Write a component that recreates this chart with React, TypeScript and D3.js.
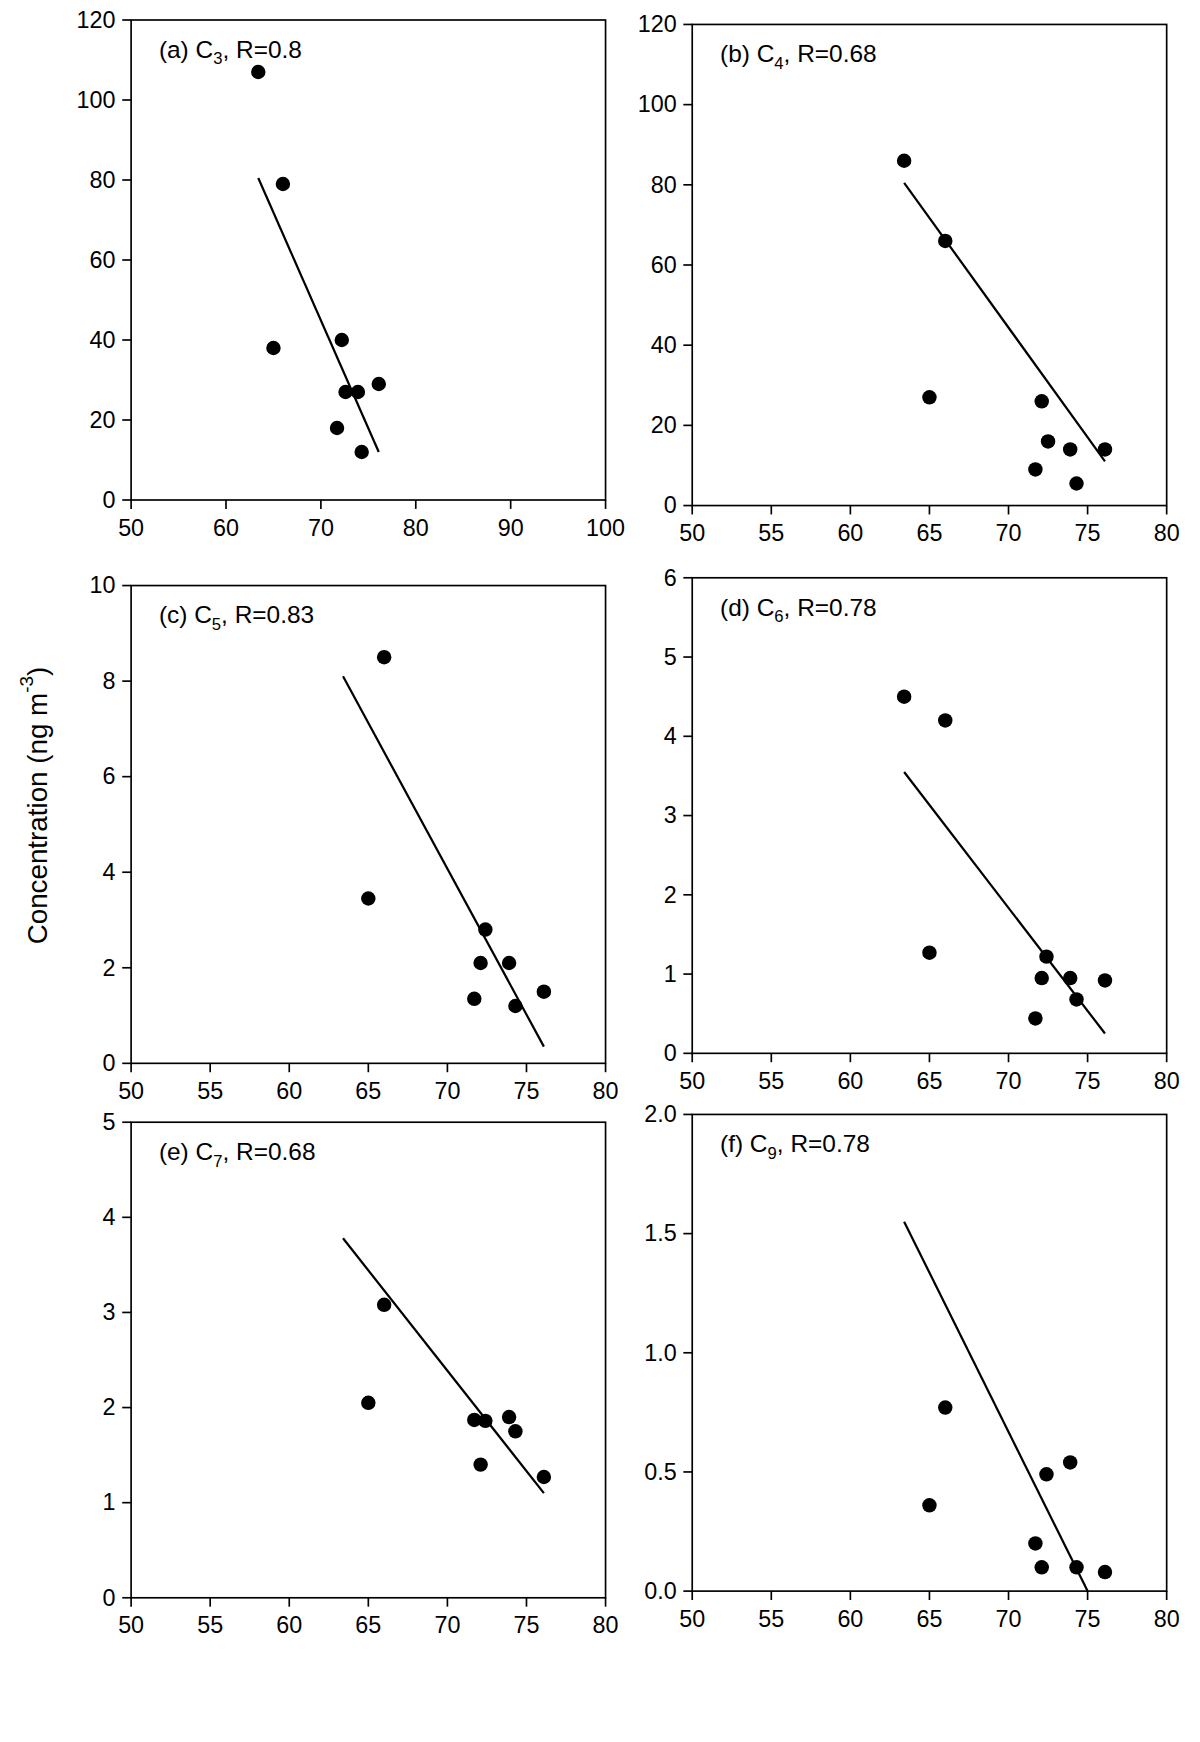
import * as d3 from 'd3'

const xsA = [63.4, 66, 65, 72.2, 72.6, 71.7, 73.9, 76.1, 74.3]
const ysA = [107, 79, 38, 40, 27, 18, 27, 29, 12]
const xsB = [63.4, 66, 65, 72.1, 72.5, 71.7, 73.9, 74.3, 76.1]
const ysB = [86, 66, 27, 26, 16, 9, 14, 5.5, 14]
const xsC = [66, 65, 72.4, 72.1, 73.9, 71.7, 74.3, 76.1]
const ysC = [8.5, 3.45, 2.8, 2.1, 2.1, 1.35, 1.2, 1.5]
const xsD = [63.4, 66, 65, 72.4, 72.1, 73.9, 76.1, 74.3, 71.7]
const ysD = [4.5, 4.2, 1.27, 1.22, 0.95, 0.95, 0.92, 0.68, 0.44]
const xsE = [66, 65, 71.7, 72.4, 73.9, 74.3, 72.1, 76.1]
const ysE = [3.08, 2.05, 1.87, 1.86, 1.9, 1.75, 1.4, 1.27]
const xsF = [66, 65, 72.4, 73.9, 71.7, 72.1, 74.3, 76.1]
const ysF = [0.77, 0.36, 0.49, 0.54, 0.2, 0.1, 0.1, 0.08]

const panels = [
  { tag: '(a) C', sub: '3', r: 'R=0.8', xs: xsA, ys: ysA, xd: [50, 100], xt: [50, 60, 70, 80, 90, 100], yd: [0, 120], yt: d3.range(0, 121, 20), fit: [[63.4, 80.5], [76.1, 12]], box: [118, 18, 545, 450], fmt: 'd' },
  { tag: '(b) C', sub: '4', r: 'R=0.68', xs: xsB, ys: ysB, xd: [50, 80], xt: d3.range(50, 81, 5), yd: [0, 120], yt: d3.range(0, 121, 20), fit: [[63.4, 80.5], [76.1, 11]], box: [623, 22, 1050, 455], fmt: 'd' },
  { tag: '(c) C', sub: '5', r: 'R=0.83', xs: xsC, ys: ysC, xd: [50, 80], xt: d3.range(50, 81, 5), yd: [0, 10], yt: d3.range(0, 11, 2), fit: [[63.4, 8.1], [76.1, 0.35]], box: [118, 527, 545, 957], fmt: 'd' },
  { tag: '(d) C', sub: '6', r: 'R=0.78', xs: xsD, ys: ysD, xd: [50, 80], xt: d3.range(50, 81, 5), yd: [0, 6], yt: d3.range(0, 7, 1), fit: [[63.4, 3.55], [76.1, 0.25]], box: [623, 520, 1050, 948], fmt: 'd' },
  { tag: '(e) C', sub: '7', r: 'R=0.68', xs: xsE, ys: ysE, xd: [50, 80], xt: d3.range(50, 81, 5), yd: [0, 5], yt: d3.range(0, 6, 1), fit: [[63.4, 3.78], [76.1, 1.1]], box: [118, 1010, 545, 1438], fmt: 'd' },
  { tag: '(f) C', sub: '9', r: 'R=0.78', xs: xsF, ys: ysF, xd: [50, 80], xt: d3.range(50, 81, 5), yd: [0, 2], yt: [0, 0.5, 1, 1.5, 2], fit: [[63.4, 1.55], [75, 0]], box: [623, 1003, 1050, 1432], fmt: '.1f' },
]

const font = 'Liberation Sans, Arial, sans-serif'
const k = 1200 / 1080

export default function App() {
  return (
    <svg width={1200} height={1742} style={{ display: 'block', fontFamily: font, margin: -8 }}>
      <g transform={`scale(${k})`}>
      {panels.map((p, i) => {
        const [x0, y0, x1, y1] = p.box
        const x = d3.scaleLinear().domain(p.xd).range([x0, x1])
        const y = d3.scaleLinear().domain(p.yd).range([y1, y0])
        const f = d3.format(p.fmt)
        return (
          <g key={i}>
            <rect x={x0} y={y0} width={x1 - x0} height={y1 - y0} fill="none" stroke="#000" strokeWidth={1.5} />
            {p.xt.map(t => (
              <g key={'x' + t}>
                <line x1={x(t)} x2={x(t)} y1={y1} y2={y1 + 8} stroke="#000" strokeWidth={1.5} />
                <text x={x(t)} y={y1 + 32} textAnchor="middle" fontSize={21}>{t}</text>
              </g>
            ))}
            {p.yt.map(t => (
              <g key={'y' + t}>
                <line x1={x0 - 8} x2={x0} y1={y(t)} y2={y(t)} stroke="#000" strokeWidth={1.5} />
                <text x={x0 - 14} y={y(t) + 7} textAnchor="end" fontSize={21}>{f(t)}</text>
              </g>
            ))}
            <line x1={x(p.fit[0][0])} y1={y(p.fit[0][1])} x2={x(p.fit[1][0])} y2={y(p.fit[1][1])} stroke="#000" strokeWidth={2} />
            {p.xs.map((v, j) => (
              <circle key={j} cx={x(v)} cy={y(p.ys[j])} r={6.5} fill="#000" />
            ))}
            <text x={x0 + 25} y={y0 + 34} fontSize={22}>
              {p.tag}<tspan fontSize={15} dy={6}>{p.sub}</tspan><tspan dy={-6}>, {p.r}</tspan>
            </text>
          </g>
        )
      })}
      <text transform="translate(42,725) rotate(-90)" textAnchor="middle" fontSize={25}>
        Concentration (ng m<tspan fontSize={17} dy={-12}>-3</tspan><tspan dy={12}>)</tspan>
      </text>
      <text x={585} y={1718} textAnchor="middle" fontSize={25}>
        C<tspan fontSize={17} dy={7}>2</tspan><tspan dy={-7}>/Total diacids (%)</tspan>
      </text>
      </g>
    </svg>
  )
}
